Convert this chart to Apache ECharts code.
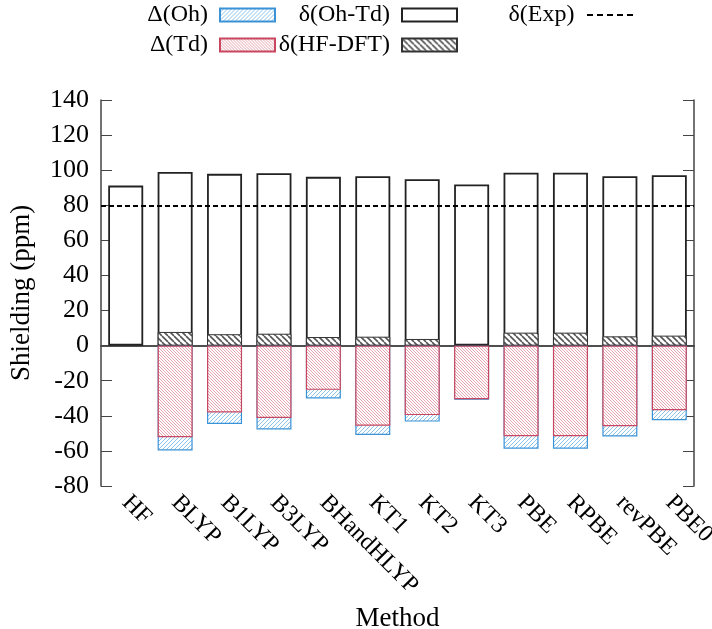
<!DOCTYPE html>
<html>
<head>
<meta charset="utf-8">
<script src="https://cdn.jsdelivr.net/npm/echarts@6/dist/echarts.min.js"></script>
<style>
  html, body { margin: 0; padding: 0; background: #fff; }
  #chart { width: 712px; height: 629px; }
</style>
</head>
<body>
<div id="chart"></div>
<script>
const categories = ['HF', 'BLYP', 'B1LYP', 'B3LYP', 'BHandHLYP', 'KT1', 'KT2', 'KT3', 'PBE', 'RPBE', 'revPBE', 'PBE0'];
// δ(Oh-Td) shielding (top of the open box)
const shieldOhTd = [91.2, 99.0, 97.9, 98.3, 96.2, 96.6, 94.8, 91.8, 98.6, 98.6, 96.6, 97.1];
// δ(HF-DFT)
const hfDft = [null, 7.8, 6.5, 6.8, 4.9, 5.1, 3.8, 0.4, 7.4, 7.4, 5.3, 5.7];
// Δ(Td), Δ(Oh)
const deltaTd = [null, -52.2, -38.1, -41.2, -25.2, -45.7, -39.6, -30.5, -51.6, -51.6, -45.9, -36.8];
const deltaOh = [null, -59.8, -44.6, -47.8, -30.1, -50.9, -43.3, -30.9, -58.7, -58.7, -51.8, -42.5];
const expShift = 80;
const yTicks = { min: -80, max: 140, interval: 20 };

const FONT = '"Liberation Serif", "Times New Roman", serif';

// diagonal hatch pattern
function hatch(color, size, lw, dir) {
  const c = document.createElement('canvas');
  c.width = c.height = size;
  const ctx = c.getContext('2d');
  ctx.fillStyle = '#fff';
  ctx.fillRect(0, 0, size, size);
  ctx.strokeStyle = color;
  ctx.lineWidth = lw;
  ctx.beginPath();
  for (const k of [-1, 0, 1]) {
    if (dir === '\\') {
      ctx.moveTo(k * size, 0);
      ctx.lineTo(k * size + size, size);
    } else {
      ctx.moveTo(k * size, size);
      ctx.lineTo(k * size + size, 0);
    }
  }
  ctx.stroke();
  return { image: c, repeat: 'repeat' };
}

const blueHatch = hatch('#8ec3ec', 4, 1, '/');
const redHatch = hatch('#e6a3b0', 3, 1, '\\');
const blackHatch = hatch('#555', 6, 1.6, '\\');

const AXIS_COLOR = '#444';
const dashIcon = 'path://M0,0h6v2h-6z M10,0h6v2h-6z M20,0h6v2h-6z M30,0h6v2h-6z M40,0h6v2h-6z';

function legendAt(name, right, top, opts) {
  opts = opts || {};
  return {
    data: [{ name: name, icon: opts.icon || 'rect' }],
    right: right,
    top: top,
    align: 'right',
    itemWidth: opts.width || 55,
    itemHeight: opts.height || 13,
    padding: 0,
    selectedMode: false,
    textStyle: { fontFamily: FONT, fontSize: 24, color: '#000', padding: [0, 7, 0, 0] }
  };
}

const chart = echarts.init(document.getElementById('chart'));
chart.setOption({
  backgroundColor: '#fff',
  animation: false,
  legend: [
    legendAt('Δ(Oh)', 436, 3),
    legendAt('δ(Oh-Td)', 254, 3),
    legendAt('δ(Exp)', 79, 3, { icon: dashIcon, width: 47, height: 2 }),
    legendAt('Δ(Td)', 436, 33),
    legendAt('δ(HF-DFT)', 254, 33)
  ],
  grid: { left: 101, right: 18, top: 100, bottom: 143, containLabel: false, outerBoundsMode: 'none' },
  xAxis: [
    {
      type: 'category',
      data: categories,
      name: 'Method',
      nameLocation: 'middle',
      nameGap: 119,
      nameTextStyle: { fontFamily: FONT, fontSize: 27, color: '#000' },
      axisLine: { lineStyle: { color: AXIS_COLOR, width: 1.5 } },
      axisTick: { inside: true, length: 11, alignWithLabel: true, lineStyle: { color: AXIS_COLOR } },
      axisLabel: { rotate: -45, margin: 13, fontFamily: FONT, fontSize: 24, color: '#000', interval: 0 }
    },
    {
      type: 'category',
      data: categories,
      position: 'top',
      axisLine: { lineStyle: { color: AXIS_COLOR, width: 1.5 } },
      axisTick: { show: false },
      axisLabel: { show: false }
    }
  ],
  yAxis: [
    {
      type: 'value',
      position: 'left',
      min: yTicks.min,
      max: yTicks.max,
      interval: yTicks.interval,
      name: 'Shielding (ppm)',
      nameLocation: 'middle',
      nameRotate: 90,
      nameGap: 66,
      nameTextStyle: { fontFamily: FONT, fontSize: 27, color: '#000' },
      axisLine: { show: true, lineStyle: { color: AXIS_COLOR, width: 1.5 } },
      axisTick: { show: true, inside: true, length: 11, lineStyle: { color: AXIS_COLOR } },
      axisLabel: { margin: 12, fontFamily: FONT, fontSize: 26, color: '#000' },
      splitLine: { show: false }
    },
    {
      type: 'value',
      min: yTicks.min,
      max: yTicks.max,
      interval: yTicks.interval,
      position: 'right',
      axisLine: { show: true, lineStyle: { color: AXIS_COLOR, width: 1.5 } },
      axisTick: { show: true, inside: true, length: 11, lineStyle: { color: AXIS_COLOR } },
      axisLabel: { show: false },
      splitLine: { show: false }
    }
  ],
  series: [
    {
      name: 'δ(Oh-Td)',
      type: 'bar',
      data: shieldOhTd,
      barWidth: 35,
      barGap: '-100%',
      itemStyle: { color: '#fff', borderColor: '#222', borderWidth: 1.8 }
    },
    {
      name: 'δ(HF-DFT)',
      type: 'bar',
      data: hfDft,
      barWidth: 35,
      barGap: '-100%',
      itemStyle: { color: blackHatch, borderColor: '#333', borderWidth: 1 }
    },
    {
      name: 'Δ(Oh)',
      type: 'bar',
      data: deltaOh,
      barWidth: 35,
      barGap: '-100%',
      itemStyle: { color: blueHatch, borderColor: '#3a92d6', borderWidth: 1.2 }
    },
    {
      name: 'Δ(Td)',
      type: 'bar',
      data: deltaTd,
      barWidth: 35,
      barGap: '-100%',
      itemStyle: { color: redHatch, borderColor: '#c8465f', borderWidth: 1.2 }
    },
    {
      name: 'δ(Exp)',
      type: 'line',
      data: [],
      symbol: 'none',
      itemStyle: { color: '#000' },
      lineStyle: { color: '#000', width: 2, type: [5, 3] },
      markLine: {
        silent: true,
        symbol: 'none',
        label: { show: false },
        lineStyle: { color: '#000', width: 2, type: [5, 3] },
        data: [{ yAxis: expShift }]
      }
    }
  ]
});
</script>
</body>
</html>
